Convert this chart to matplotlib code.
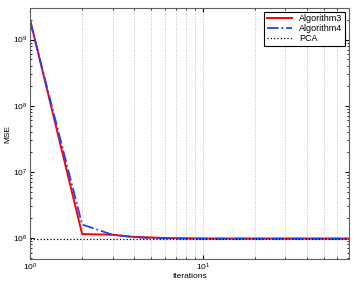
import matplotlib
matplotlib.use('Agg')
import matplotlib.pyplot as plt

iters = list(range(1, 71))
alg3 = [2.0e9, 1.15e6, 1.12e6, 1.04e6, 1.02e6, 1.0e6, 9.95e5, 9.9e5, 9.88e5, 9.85e5] + [9.82e5] * 60
alg4 = [1.9e9, 1.6e6, 1.12e6, 1.03e6, 1.0e6, 9.9e5, 9.85e5, 9.82e5, 9.8e5, 9.8e5] + [9.8e5] * 60
pca = [9.7e5] * 70

plt.rcParams['font.family'] = ['Liberation Sans', 'DejaVu Sans']
plt.rcParams['font.size'] = 6

fig = plt.figure(figsize=(3.54, 2.86), dpi=100)
ax = fig.add_axes([0.085, 0.094, 0.901, 0.878])

ax.plot(iters, alg3, color='red', lw=1.4, label='Algorithm3')
ax.plot(iters, alg4, color='#2040ff', lw=1.3, ls='-.', label='Algorithm4')
ax.plot(iters, pca, color='black', lw=0.9, ls=':', label='PCA')

ax.set_xscale('log')
ax.set_yscale('log')
ax.set_xlim(1, 70)
ax.set_ylim(4.8e5, 3e9)
ax.grid(True, which='both', axis='x', ls=':', color='#c0c0c0', lw=0.7)
ax.tick_params(which='both', direction='in', top=True, right=True, labelsize=6, pad=2)
ax.tick_params(which='major', length=3)
ax.tick_params(which='minor', length=1.5)
for s in ax.spines.values():
    s.set_color('#606060')

ax.set_xlabel('Iterations', fontsize=6, labelpad=0)
ax.set_ylabel('MSE', fontsize=6, labelpad=1)

leg = ax.legend(loc='upper right', fontsize=6.5, fancybox=False, framealpha=1,
                edgecolor='black', borderpad=0.3, labelspacing=0.1, handlelength=2.8,
                borderaxespad=0.4)
leg.get_frame().set_linewidth(0.8)

fig.savefig('out.png', dpi=100)
